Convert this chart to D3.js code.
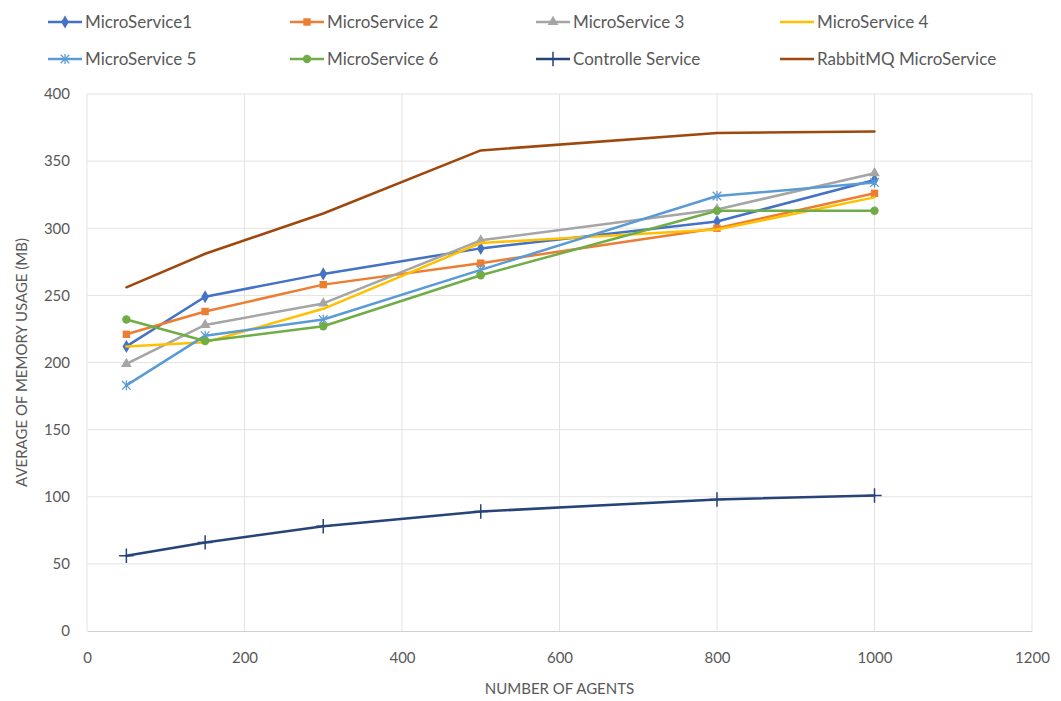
<!DOCTYPE html>
<html>
<head>
<meta charset="utf-8">
<script src="https://cdn.jsdelivr.net/npm/d3@7"></script>
<style>
  html, body { margin: 0; padding: 0; background: #fff; }
  svg text { font-family: Lato, "Open Sans", sans-serif; fill: #595959; }
</style>
</head>
<body>
<svg id="chart" width="1061" height="701"></svg>
<script>
// Number of agents on the x axis
const agents = [50, 150, 300, 500, 800, 1000];

// Average memory usage (MB) per service
const microService1 = [212, 249, 266, 285, 305, 336];
const microService2 = [221, 238, 258, 274, 300, 326];
const microService3 = [199, 228, 244, 291, 314, 341];
const microService4 = [212, 215, 240, 289, 299, 323];
const microService5 = [183, 220, 232, 269, 324, 334];
const microService6 = [232, 216, 227, 265, 313, 313];
const controlleService = [56, 66, 78, 89, 98, 101];
const rabbitMQService = [256, 281, 311, 358, 371, 372];

const seriesNames = ["MicroService1", "MicroService 2", "MicroService 3", "MicroService 4",
  "MicroService 5", "MicroService 6", "Controlle Service", "RabbitMQ MicroService"];
const seriesValues = [microService1, microService2, microService3, microService4,
  microService5, microService6, controlleService, rabbitMQService];
const seriesColors = ["#4472C4", "#ED7D31", "#A5A5A5", "#FFC000", "#5B9BD5", "#70AD47", "#264478", "#9E480E"];
const seriesMarkers = ["diamond", "square", "triangle", "none", "star", "circle", "plus", "none"];

const xTicks = [0, 200, 400, 600, 800, 1000, 1200];
const yTicks = [0, 50, 100, 150, 200, 250, 300, 350, 400];

const svg = d3.select("#chart");
const plot = { left: 87, right: 1032, top: 94, bottom: 631 };

const x = d3.scaleLinear().domain([0, 1200]).range([plot.left, plot.right]);
const y = d3.scaleLinear().domain([0, 400]).range([plot.bottom, plot.top]);

// Gridlines
const grid = svg.append("g");
grid.selectAll("line.h").data(yTicks.filter(d => d > 0)).join("line")
  .attr("x1", plot.left).attr("x2", plot.right)
  .attr("y1", d => y(d)).attr("y2", d => y(d))
  .attr("stroke", "#e3e3e3").attr("stroke-width", 1);
grid.selectAll("line.v").data(xTicks).join("line")
  .attr("x1", d => x(d)).attr("x2", d => x(d))
  .attr("y1", plot.top).attr("y2", plot.bottom)
  .attr("stroke", "#e3e3e3").attr("stroke-width", 1);

// Axes
const xAxis = svg.append("g").attr("transform", `translate(0,${plot.bottom})`)
  .call(d3.axisBottom(x).tickValues(xTicks).tickFormat(d3.format("d")).tickSize(0).tickPadding(21));
xAxis.select(".domain").attr("stroke", "#d0d0d0");
xAxis.selectAll("text").style("font-size", "15px").attr("fill", "#595959");

const yAxis = svg.append("g").attr("transform", `translate(${plot.left},0)`)
  .call(d3.axisLeft(y).tickValues(yTicks).tickFormat(d3.format("d")).tickSize(0).tickPadding(17));
yAxis.select(".domain").remove();
yAxis.selectAll("text").style("font-size", "15px").attr("fill", "#595959");

// Axis titles
svg.append("text").attr("x", (plot.left + plot.right) / 2).attr("y", 694)
  .attr("text-anchor", "middle").style("font-size", "15px").text("NUMBER OF AGENTS");
svg.append("text").attr("transform", `translate(27,${(plot.top + plot.bottom) / 2}) rotate(-90)`)
  .attr("text-anchor", "middle").style("font-size", "15px").text("AVERAGE OF MEMORY USAGE (MB)");

// Marker drawing
function drawMarker(g, type, color) {
  switch (type) {
    case "diamond":
      g.append("path").attr("d", d3.symbol(d3.symbolDiamond, 50)()).attr("fill", color);
      break;
    case "square":
      g.append("path").attr("d", d3.symbol(d3.symbolSquare, 55)()).attr("fill", color);
      break;
    case "triangle":
      g.append("path").attr("d", d3.symbol(d3.symbolTriangle, 50)()).attr("fill", color);
      break;
    case "circle":
      g.append("path").attr("d", d3.symbol(d3.symbolCircle, 55)()).attr("fill", color);
      break;
    case "star":
      g.append("path").attr("d", d3.symbol(d3.symbolTimes, 50)()).attr("fill", "none")
        .attr("stroke", color).attr("stroke-width", 1.3);
      g.append("line").attr("x1", 0).attr("x2", 0).attr("y1", -5).attr("y2", 5)
        .attr("stroke", color).attr("stroke-width", 1.3);
      break;
    case "plus":
      g.append("path").attr("d", d3.symbol(d3.symbolCross2 || d3.symbolPlus, 70)()).attr("fill", "none")
        .attr("stroke", color).attr("stroke-width", 1.5);
      break;
  }
}

// Series lines and markers
const line = d3.line().x(d => x(d[0])).y(d => y(d[1]));
seriesValues.forEach((vals, i) => {
  const pts = agents.map((a, j) => [a, vals[j]]);
  const g = svg.append("g");
  g.append("path").datum(pts).attr("d", line)
    .attr("fill", "none").attr("stroke", seriesColors[i])
    .attr("stroke-width", 2.5).attr("stroke-linejoin", "round").attr("stroke-linecap", "round");
  if (seriesMarkers[i] !== "none") {
    pts.forEach(p => {
      const m = g.append("g").attr("transform", `translate(${x(p[0])},${y(p[1])})`);
      drawMarker(m, seriesMarkers[i], seriesColors[i]);
    });
  }
});

// Legend: two rows of four entries
const legendCols = [48, 290, 536, 780];
const legendRows = [22, 59];
seriesNames.forEach((name, i) => {
  const lx = legendCols[i % 4], ly = legendRows[Math.floor(i / 4)];
  const g = svg.append("g").attr("transform", `translate(${lx},${ly})`);
  g.append("line").attr("x1", 0).attr("x2", 34).attr("y1", 0).attr("y2", 0)
    .attr("stroke", seriesColors[i]).attr("stroke-width", 2.5);
  if (seriesMarkers[i] !== "none") {
    const m = g.append("g").attr("transform", "translate(17,0)");
    drawMarker(m, seriesMarkers[i], seriesColors[i]);
  }
  g.append("text").attr("x", 37).attr("y", 0).attr("dy", "0.35em")
    .style("font-size", "17px").text(name);
});
</script>
</body>
</html>
